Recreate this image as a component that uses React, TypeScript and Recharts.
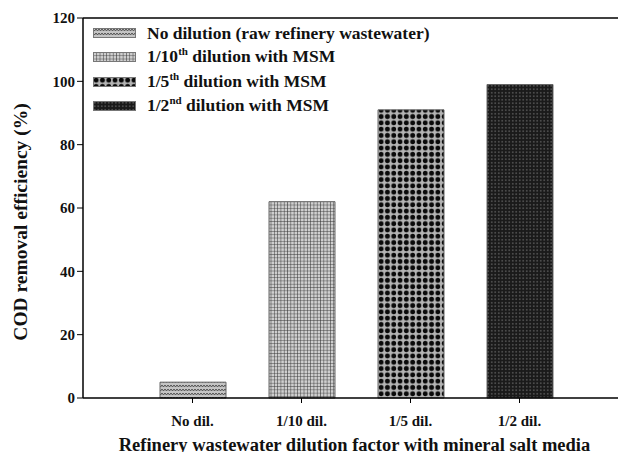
import { BarChart, Bar, XAxis, YAxis, Cell, ReferenceLine } from 'recharts';

const categories = ['No dil.', '1/10 dil.', '1/5 dil.', '1/2 dil.'];
const codRemoval = [5, 62, 91, 99];
const yTicks = [0, 20, 40, 60, 80, 100, 120];

const legendItems = [
  { main: 'No dilution (raw refinery wastewater)', sup: '', rest: '' },
  { main: '1/10', sup: 'th', rest: ' dilution with MSM' },
  { main: '1/5', sup: 'th', rest: ' dilution with MSM' },
  { main: '1/2', sup: 'nd', rest: ' dilution with MSM' },
];
const patternIds = ['pZig', 'pGrid', 'pDots', 'pDark'];

const data = categories.map((name, i) => ({ name, value: codRemoval[i] }));

const FONT = '"Liberation Serif", "Times New Roman", serif';

const Patterns = () => (
  <defs>
    <pattern id="pZig" width="6" height="4" patternUnits="userSpaceOnUse">
      <rect width="6" height="4" fill="#c4c4c4" />
      <path d="M0 1 L1.5 3 L3 1 L4.5 3 L6 1" stroke="#444" strokeWidth="0.9" fill="none" />
    </pattern>
    <pattern id="pGrid" width="3.3" height="3.3" patternUnits="userSpaceOnUse">
      <rect width="3.3" height="3.3" fill="#cfcfcf" />
      <path d="M0 0 H3.3 M0 0 V3.3" stroke="#333" strokeWidth="1" />
    </pattern>
    <pattern id="pDots" width="6.3" height="6.3" patternUnits="userSpaceOnUse">
      <rect width="6.3" height="6.3" fill="#b4b4b4" />
      <circle cx="3.15" cy="3.15" r="2.4" fill="#0a0a0a" />
    </pattern>
    <pattern id="pDark" width="3.5" height="3.5" patternUnits="userSpaceOnUse">
      <rect width="3.5" height="3.5" fill="#1a1a1a" />
      <circle cx="1.75" cy="1.75" r="0.7" fill="#8a8a8a" />
    </pattern>
  </defs>
);

const ChartLegend = () => (
  <div
    style={{
      position: 'absolute',
      left: 93,
      top: 21,
      fontFamily: FONT,
      fontWeight: 'bold',
      fontSize: 17.5,
      color: '#111',
      lineHeight: '24px',
    }}
  >
    {legendItems.map((item, i) => (
      <div key={i} style={{ display: 'flex', alignItems: 'center', height: 24.3 }}>
        <svg width={43} height={10} style={{ marginRight: 11 }}>
          <rect x={0.5} y={0.5} width={42} height={9} fill={`url(#${patternIds[i]})`} stroke="#777" />
        </svg>
        <span>
          {item.main}
          {item.sup && (
            <span style={{ fontSize: 11, position: 'relative', top: -7 }}>{item.sup}</span>
          )}
          {item.rest}
        </span>
      </div>
    ))}
  </div>
);

export default function App() {
  return (
    <div style={{ margin: -8, width: 626, height: 460, overflow: 'hidden', background: '#fff', position: 'relative' }}>
      <BarChart
        width={626}
        height={460}
        data={data}
        margin={{ top: 18, right: 0, bottom: 0, left: 0 }}
      >
        <Patterns />
        <XAxis
          dataKey="name"
          height={62}
          padding={{ left: 55, right: 52 }}
          stroke="#000"
          axisLine={{ strokeWidth: 1.5 }}
          tickSize={5}
          tickMargin={12}
          tick={{ fill: '#111', fontFamily: FONT, fontWeight: 'bold', fontSize: 15 }}
          label={{
            value: 'Refinery wastewater dilution factor with mineral salt media',
            position: 'insideBottom',
            offset: 9,
            style: { fill: '#111', fontFamily: FONT, fontWeight: 'bold', fontSize: 18.5 },
          }}
        />
        <YAxis
          width={83}
          domain={[0, 120]}
          ticks={yTicks}
          stroke="#000"
          axisLine={{ strokeWidth: 1.5 }}
          tickSize={6}
          tick={{ fill: '#111', fontFamily: FONT, fontWeight: 'bold', fontSize: 15 }}
          label={{
            value: 'COD removal efficiency (%)',
            angle: -90,
            position: 'insideLeft',
            offset: 20,
            dy: 14,
            style: { fill: '#111', fontFamily: FONT, fontWeight: 'bold', fontSize: 19.5, textAnchor: 'middle' },
          }}
        />
        <ReferenceLine y={120} stroke="#000" strokeWidth={1.5} />
        <Bar dataKey="value" barSize={66} stroke="#666" strokeWidth={1} isAnimationActive={false}>
          {data.map((entry, i) => (
            <Cell key={`cell-${entry.name}`} fill={`url(#${patternIds[i]})`} />
          ))}
        </Bar>
      </BarChart>
      <ChartLegend />
    </div>
  );
}
